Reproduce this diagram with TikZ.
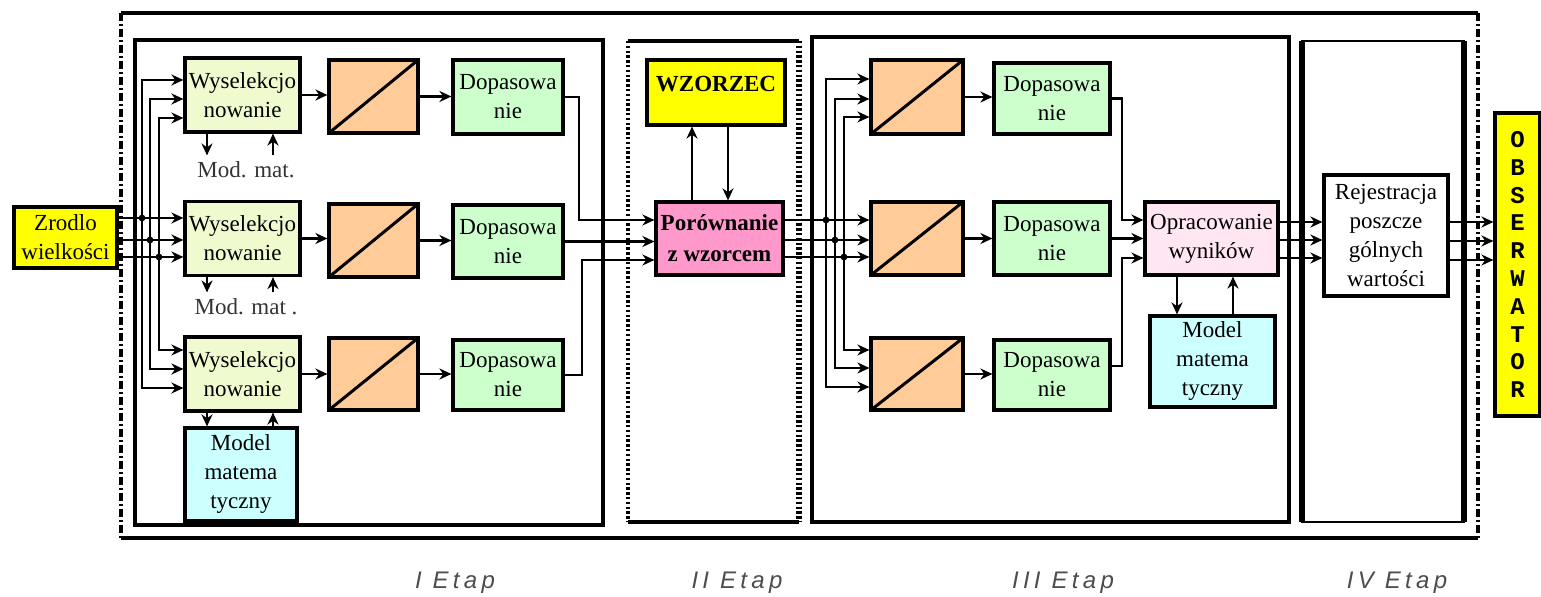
\documentclass[tikz,border=0pt]{standalone}
\usepackage{fontspec}
\setmainfont{Liberation Serif}
\newfontfamily\monofnt{Liberation Mono}
\newfontfamily\etapfnt[LetterSpace=18]{Liberation Sans}
\usetikzlibrary{arrows.meta}
\definecolor{cyel}{HTML}{FFFF00}
\definecolor{cwys}{HTML}{F0FACF}
\definecolor{corg}{HTML}{FFCC99}
\definecolor{cgrn}{HTML}{CCFFCC}
\definecolor{cmod}{HTML}{CCFFFF}
\definecolor{cpor}{HTML}{FF99CC}
\definecolor{copr}{HTML}{FFE6F2}
\definecolor{cetap}{HTML}{4D4D4D}
\definecolor{clbl}{HTML}{333333}
\tikzset{
  blk/.style={draw, line width=1.6pt, inner sep=0pt, align=center, font=\fontsize{11.5}{14.5}\selectfont},
  sz/.style 2 args={minimum width=#1*0.5pt, minimum height=#2*0.5pt},
  conv/.style={blk, fill=corg, path picture={\draw[line width=1.5pt] (path picture bounding box.south west) -- (path picture bounding box.north east);}},
  wys/.style={blk, fill=cwys, sz={115}{74}},
  dop/.style={blk, fill=cgrn},
  modb/.style={blk, fill=cmod},
  arr/.style={line width=1.4pt, -{Stealth[length=6pt,width=5.5pt]}},
  dar/.style={line width=1.4pt, {Stealth[length=6pt,width=5.5pt]}-{Stealth[length=6pt,width=5.5pt]}},
  lbl/.style={inner sep=3pt, text=clbl, font=\fontsize{11.5}{14.5}\selectfont},
  etap/.style={font=\etapfnt\itshape\fontsize{12}{14}\selectfont, text=cetap},
  frm/.style={line width=1.6pt},
}
\begin{document}
\begin{tikzpicture}[x=0.5pt,y=-0.5pt]
\useasboundingbox (0,0) rectangle (1541,597);
% ---- frames ----
\draw[frm] (121,13) -- (1478,13);
\draw[frm] (121,538) -- (1478,538);
\draw[frm, dash pattern=on 4pt off 1.5pt on 1pt off 1.5pt] (121,13) -- (121,538);
\draw[frm, dash pattern=on 4pt off 1.5pt on 1pt off 1.5pt] (1478,13) -- (1478,538);
\draw[frm] (135,40) rectangle (603,525);
\draw[frm] (628,41) -- (799,41);
\draw[frm] (628,522) -- (799,522);
\draw[line width=1.6pt, dash pattern=on 1.2pt off 1.2pt] (628,41) -- (628,522);
\draw[line width=2.6pt, dash pattern=on 1.2pt off 1.2pt] (799,41) -- (799,522);
\draw[frm] (812,37) rectangle (1289,522);
\draw[line width=1.4pt] (1302,41) rectangle (1464,522);
\draw[line width=3pt] (1302,41) -- (1302,522);
\draw[line width=3pt] (1464,41) -- (1464,522);
% ---- nodes ----
\node[blk, fill=cyel, sz={103}{61}] (Z) at (65.5,237.5) {Zrodlo\\wielkości};
\node[wys] (W1) at (242.5,95) {Wyselekcjo\\nowanie};
\node[wys] (W2) at (242.5,238.5) {Wyselekcjo\\nowanie};
\node[wys] (W3) at (242.5,374) {Wyselekcjo\\nowanie};
\node[lbl] (mm1) at (246,170) {Mod. mat.};
\node[lbl] (mm2) at (246,307) {Mod. mat .};
\node[modb, sz={112}{93}] (MI) at (241,474.5) {Model\\matema\\tyczny};
\node[conv, sz={89}{73}] (O1) at (373.5,96.5) {};
\node[conv, sz={89}{73}] (O2) at (373.5,240.5) {};
\node[conv, sz={89}{72}] (O3) at (373.5,374) {};
\node[dop, sz={110}{74}] (D1) at (508,97) {Dopasowa\\nie};
\node[dop, sz={110}{73}] (D2) at (508,241.5) {Dopasowa\\nie};
\node[dop, sz={110}{70}] (D3) at (508,375) {Dopasowa\\nie};
\node[blk, fill=cyel, sz={138}{65}, font=\bfseries\fontsize{11.5}{14.5}\selectfont, text depth=0pt] (WZ) at (716,92.5) {\raisebox{9pt}{WZORZEC}};
\node[blk, fill=cpor, sz={127}{73}, font=\bfseries\fontsize{11.5}{15.5}\selectfont] (P) at (719.5,238.5) {Porównanie\\z wzorcem};
\node[conv, sz={92}{74}] (O4) at (917,97) {};
\node[conv, sz={92}{73}] (O5) at (917,238.5) {};
\node[conv, sz={92}{72}] (O6) at (917,374) {};
\node[dop, sz={116}{71}] (D4) at (1052,98.5) {Dopasowa\\nie};
\node[dop, sz={116}{73}] (D5) at (1052,238.5) {Dopasowa\\nie};
\node[dop, sz={116}{70}] (D6) at (1052,375) {Dopasowa\\nie};
\node[blk, fill=copr, sz={133}{73}] (Opr) at (1211.5,238.5) {Opracowanie\\wyników};
\node[modb, sz={125}{91}] (MIII) at (1212.5,361.5) {Model\\matema\\tyczny};
\node[blk, fill=white, sz={124}{121}] (Rej) at (1386,235.5) {Rejestracja\\poszcze\\gólnych\\wartości};
\node[blk, fill=cyel, sz={45}{303}, font=\monofnt\bfseries\fontsize{12}{13.9}\selectfont] (OBS) at (1517.5,264.5) {O\\B\\S\\E\\R\\W\\A\\T\\O\\R};
% ---- Etap labels ----
\node[etap] (e1) at (455,583) {I Etap};
\node[etap] (e2) at (737,583) {II Etap};
\node[etap] (e3) at (1063,583) {III Etap};
\node[etap] (e4) at (1397,583) {IV Etap};
% ---- connectors, Etap I ----
\draw[arr] (Z.east |- 0,218) -- (W2.west |- 0,218);
\draw[arr] (Z.east |- 0,240) -- (W2.west |- 0,240);
\draw[arr] (Z.east |- 0,257) -- (W2.west |- 0,257);
\draw[dar] (W1.west |- 0,80) -| (142,300) |- (W3.west |- 0,388);
\draw[dar] (W1.west |- 0,99) -| (150,300) |- (W3.west |- 0,369);
\draw[dar] (W1.west |- 0,118) -| (159,300) |- (W3.west |- 0,350);
\fill (142,218) circle (1.7pt);
\fill (150,240) circle (1.7pt);
\fill (159,257) circle (1.7pt);
\draw[arr] (W1.east) -- (W1.east -| O1.west);
\draw[arr] (W2.east) -- (W2.east -| O2.west);
\draw[arr] (W3.east) -- (W3.east -| O3.west);
\draw[arr] (O1.east) -- (O1.east -| D1.west);
\draw[arr] (O2.east) -- (O2.east -| D2.west);
\draw[arr] (O3.east) -- (O3.east -| D3.west);
\draw[arr] (W1.south -| 207,0) -- (mm1.north -| 207,0);
\draw[arr] (mm1.north -| 273,0) -- (W1.south -| 273,0);
\draw[arr] (W2.south -| 207,0) -- (mm2.north -| 207,0);
\draw[arr] (mm2.north -| 273,0) -- (W2.south -| 273,0);
\draw[arr] (W3.south -| 207,0) -- (MI.north -| 207,0);
\draw[arr] (MI.north -| 273,0) -- (W3.south -| 273,0);
% ---- Etap I -> II ----
\draw[arr] (D1.east) -| (579,220) -- (P.west |- 0,220);
\draw[arr] (D2.east) -- (D2.east -| P.west);
\draw[arr] (D3.east) -| (582,260) -- (P.west |- 0,260);
\draw[arr] (P.north -| 692,0) -- (WZ.south -| 692,0);
\draw[arr] (WZ.south -| 728,0) -- (P.north -| 728,0);
% ---- Etap II -> III ----
\draw[arr] (P.east |- 0,220) -- (O5.west |- 0,220);
\draw[arr] (P.east |- 0,240) -- (O5.west |- 0,240);
\draw[arr] (P.east |- 0,257) -- (O5.west |- 0,257);
\draw[dar] (O4.west |- 0,79) -| (826,300) |- (O6.west |- 0,387);
\draw[dar] (O4.west |- 0,99) -| (835,300) |- (O6.west |- 0,368);
\draw[dar] (O4.west |- 0,117) -| (844,300) |- (O6.west |- 0,350);
\fill (826,220) circle (1.7pt);
\fill (835,240) circle (1.7pt);
\fill (844,257) circle (1.7pt);
\draw[arr] (O4.east) -- (O4.east -| D4.west);
\draw[arr] (O5.east) -- (O5.east -| D5.west);
\draw[arr] (O6.east) -- (O6.east -| D6.west);
\draw[arr] (D4.east) -| (1122,220) -- (Opr.west |- 0,220);
\draw[arr] (D5.east) -- (D5.east -| Opr.west);
\draw[arr] (D6.east |- 0,366) -| (1122,258) -- (Opr.west |- 0,258);
\draw[arr] (Opr.south -| 1177,0) -- (MIII.north -| 1177,0);
\draw[arr] (MIII.north -| 1233,0) -- (Opr.south -| 1233,0);
% ---- Etap III -> IV -> observer ----
\draw[arr] (Opr.east |- 0,222) -- (Rej.west |- 0,222);
\draw[arr] (Opr.east |- 0,240) -- (Rej.west |- 0,240);
\draw[arr] (Opr.east |- 0,258) -- (Rej.west |- 0,258);
\draw[arr] (Rej.east |- 0,222) -- (OBS.west |- 0,222);
\draw[arr] (Rej.east |- 0,241) -- (OBS.west |- 0,241);
\draw[arr] (Rej.east |- 0,260) -- (OBS.west |- 0,260);
\end{tikzpicture}
\end{document}
